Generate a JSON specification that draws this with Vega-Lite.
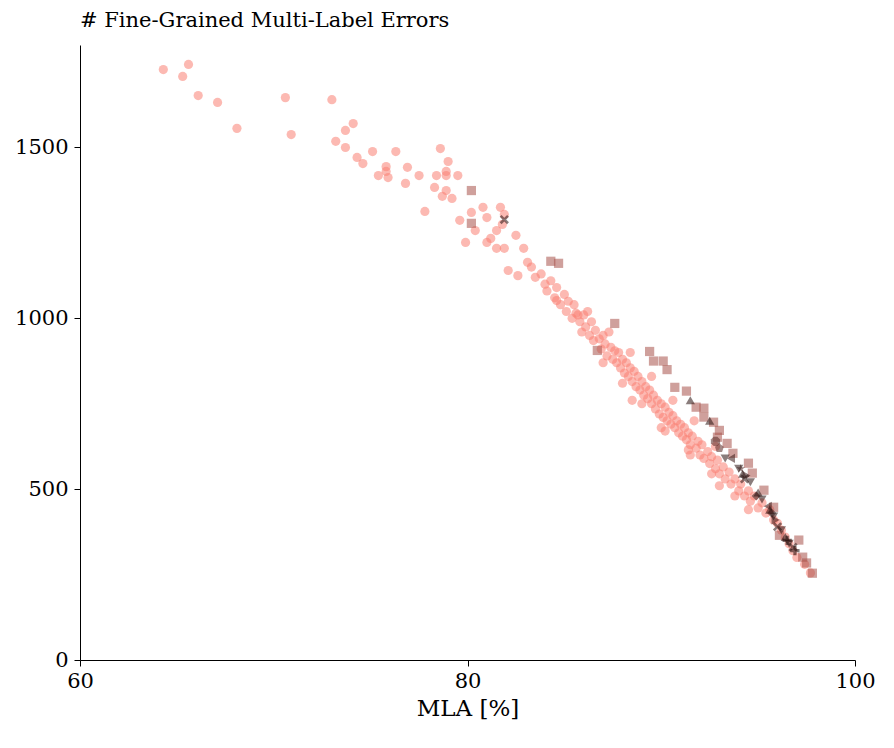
{
  "$schema": "https://vega.github.io/schema/vega-lite/v6.json",
  "autosize": "none",
  "padding": {"left": 80, "top": 45, "right": 39, "bottom": 88},
  "width": 775,
  "height": 615,
  "title": {"text": "# Fine-Grained Multi-Label Errors", "anchor": "start", "frame": "group", "font": "DejaVu Serif", "fontSize": 21, "fontWeight": "normal", "color": "black", "offset": 14},
  "data": {"values": [
    {"x":64.3,"y":1728,"d":"ImageNet-1k (1.2M)"},{"x":65.3,"y":1708,"d":"ImageNet-1k (1.2M)"},{"x":65.6,"y":1743,"d":"ImageNet-1k (1.2M)"},{"x":66.1,"y":1652,"d":"ImageNet-1k (1.2M)"},{"x":67.1,"y":1632,"d":"ImageNet-1k (1.2M)"},{"x":68.1,"y":1556,"d":"ImageNet-1k (1.2M)"},{"x":70.6,"y":1646,"d":"ImageNet-1k (1.2M)"},{"x":70.9,"y":1538,"d":"ImageNet-1k (1.2M)"},{"x":73.0,"y":1640,"d":"ImageNet-1k (1.2M)"},{"x":73.2,"y":1518,"d":"ImageNet-1k (1.2M)"},{"x":73.7,"y":1550,"d":"ImageNet-1k (1.2M)"},{"x":74.1,"y":1570,"d":"ImageNet-1k (1.2M)"},{"x":73.7,"y":1500,"d":"ImageNet-1k (1.2M)"},{"x":74.3,"y":1471,"d":"ImageNet-1k (1.2M)"},{"x":74.6,"y":1453,"d":"ImageNet-1k (1.2M)"},{"x":75.1,"y":1488,"d":"ImageNet-1k (1.2M)"},{"x":75.4,"y":1418,"d":"ImageNet-1k (1.2M)"},{"x":75.8,"y":1444,"d":"ImageNet-1k (1.2M)"},{"x":75.8,"y":1430,"d":"ImageNet-1k (1.2M)"},{"x":76.3,"y":1488,"d":"ImageNet-1k (1.2M)"},{"x":75.9,"y":1412,"d":"ImageNet-1k (1.2M)"},{"x":76.8,"y":1395,"d":"ImageNet-1k (1.2M)"},{"x":76.9,"y":1442,"d":"ImageNet-1k (1.2M)"},{"x":77.5,"y":1418,"d":"ImageNet-1k (1.2M)"},{"x":77.8,"y":1313,"d":"ImageNet-1k (1.2M)"},{"x":78.4,"y":1418,"d":"ImageNet-1k (1.2M)"},{"x":78.6,"y":1497,"d":"ImageNet-1k (1.2M)"},{"x":78.3,"y":1383,"d":"ImageNet-1k (1.2M)"},{"x":78.9,"y":1418,"d":"ImageNet-1k (1.2M)"},{"x":78.9,"y":1430,"d":"ImageNet-1k (1.2M)"},{"x":79.0,"y":1459,"d":"ImageNet-1k (1.2M)"},{"x":78.7,"y":1357,"d":"ImageNet-1k (1.2M)"},{"x":78.9,"y":1374,"d":"ImageNet-1k (1.2M)"},{"x":79.2,"y":1351,"d":"ImageNet-1k (1.2M)"},{"x":79.5,"y":1418,"d":"ImageNet-1k (1.2M)"},{"x":79.6,"y":1287,"d":"ImageNet-1k (1.2M)"},{"x":79.9,"y":1222,"d":"ImageNet-1k (1.2M)"},{"x":80.2,"y":1310,"d":"ImageNet-1k (1.2M)"},{"x":80.4,"y":1257,"d":"ImageNet-1k (1.2M)"},{"x":80.8,"y":1325,"d":"ImageNet-1k (1.2M)"},{"x":81.0,"y":1295,"d":"ImageNet-1k (1.2M)"},{"x":81.2,"y":1234,"d":"ImageNet-1k (1.2M)"},{"x":81.0,"y":1222,"d":"ImageNet-1k (1.2M)"},{"x":81.5,"y":1257,"d":"ImageNet-1k (1.2M)"},{"x":81.7,"y":1325,"d":"ImageNet-1k (1.2M)"},{"x":81.9,"y":1304,"d":"ImageNet-1k (1.2M)"},{"x":81.8,"y":1275,"d":"ImageNet-1k (1.2M)"},{"x":81.5,"y":1205,"d":"ImageNet-1k (1.2M)"},{"x":81.9,"y":1205,"d":"ImageNet-1k (1.2M)"},{"x":82.5,"y":1243,"d":"ImageNet-1k (1.2M)"},{"x":82.1,"y":1140,"d":"ImageNet-1k (1.2M)"},{"x":82.9,"y":1205,"d":"ImageNet-1k (1.2M)"},{"x":83.1,"y":1164,"d":"ImageNet-1k (1.2M)"},
    {"x":82.6,"y":1125,"d":"ImageNet-1k (1.2M)"},{"x":83.3,"y":1150,"d":"ImageNet-1k (1.2M)"},{"x":83.5,"y":1120,"d":"ImageNet-1k (1.2M)"},{"x":83.8,"y":1130,"d":"ImageNet-1k (1.2M)"},{"x":84.0,"y":1100,"d":"ImageNet-1k (1.2M)"},{"x":84.1,"y":1080,"d":"ImageNet-1k (1.2M)"},{"x":84.3,"y":1110,"d":"ImageNet-1k (1.2M)"},{"x":84.5,"y":1060,"d":"ImageNet-1k (1.2M)"},{"x":84.6,"y":1090,"d":"ImageNet-1k (1.2M)"},{"x":84.8,"y":1040,"d":"ImageNet-1k (1.2M)"},{"x":85.0,"y":1070,"d":"ImageNet-1k (1.2M)"},{"x":85.1,"y":1020,"d":"ImageNet-1k (1.2M)"},{"x":85.2,"y":1050,"d":"ImageNet-1k (1.2M)"},{"x":85.4,"y":1000,"d":"ImageNet-1k (1.2M)"},{"x":85.5,"y":1040,"d":"ImageNet-1k (1.2M)"},{"x":85.6,"y":1015,"d":"ImageNet-1k (1.2M)"},{"x":85.8,"y":990,"d":"ImageNet-1k (1.2M)"},{"x":85.9,"y":960,"d":"ImageNet-1k (1.2M)"},{"x":86.0,"y":1010,"d":"ImageNet-1k (1.2M)"},{"x":86.1,"y":975,"d":"ImageNet-1k (1.2M)"},{"x":86.3,"y":950,"d":"ImageNet-1k (1.2M)"},{"x":86.4,"y":990,"d":"ImageNet-1k (1.2M)"},{"x":86.5,"y":935,"d":"ImageNet-1k (1.2M)"},{"x":86.6,"y":965,"d":"ImageNet-1k (1.2M)"},{"x":86.8,"y":940,"d":"ImageNet-1k (1.2M)"},{"x":86.9,"y":910,"d":"ImageNet-1k (1.2M)"},{"x":87.0,"y":950,"d":"ImageNet-1k (1.2M)"},{"x":87.1,"y":925,"d":"ImageNet-1k (1.2M)"},{"x":87.2,"y":890,"d":"ImageNet-1k (1.2M)"},{"x":87.4,"y":915,"d":"ImageNet-1k (1.2M)"},{"x":87.5,"y":880,"d":"ImageNet-1k (1.2M)"},{"x":87.6,"y":905,"d":"ImageNet-1k (1.2M)"},{"x":87.7,"y":870,"d":"ImageNet-1k (1.2M)"},{"x":87.8,"y":900,"d":"ImageNet-1k (1.2M)"},{"x":87.9,"y":855,"d":"ImageNet-1k (1.2M)"},{"x":88.0,"y":880,"d":"ImageNet-1k (1.2M)"},{"x":88.1,"y":840,"d":"ImageNet-1k (1.2M)"},{"x":88.2,"y":870,"d":"ImageNet-1k (1.2M)"},{"x":88.3,"y":830,"d":"ImageNet-1k (1.2M)"},{"x":88.4,"y":855,"d":"ImageNet-1k (1.2M)"},{"x":88.5,"y":815,"d":"ImageNet-1k (1.2M)"},{"x":88.6,"y":845,"d":"ImageNet-1k (1.2M)"},{"x":88.7,"y":800,"d":"ImageNet-1k (1.2M)"},{"x":88.8,"y":830,"d":"ImageNet-1k (1.2M)"},{"x":88.9,"y":790,"d":"ImageNet-1k (1.2M)"},{"x":89.0,"y":815,"d":"ImageNet-1k (1.2M)"},{"x":89.1,"y":775,"d":"ImageNet-1k (1.2M)"},{"x":89.2,"y":800,"d":"ImageNet-1k (1.2M)"},{"x":89.3,"y":765,"d":"ImageNet-1k (1.2M)"},{"x":89.4,"y":790,"d":"ImageNet-1k (1.2M)"},{"x":89.5,"y":750,"d":"ImageNet-1k (1.2M)"},{"x":89.6,"y":775,"d":"ImageNet-1k (1.2M)"},{"x":89.7,"y":735,"d":"ImageNet-1k (1.2M)"},{"x":89.8,"y":760,"d":"ImageNet-1k (1.2M)"},{"x":89.9,"y":720,"d":"ImageNet-1k (1.2M)"},{"x":90.0,"y":750,"d":"ImageNet-1k (1.2M)"},{"x":90.1,"y":710,"d":"ImageNet-1k (1.2M)"},{"x":90.2,"y":740,"d":"ImageNet-1k (1.2M)"},{"x":90.3,"y":700,"d":"ImageNet-1k (1.2M)"},{"x":90.4,"y":725,"d":"ImageNet-1k (1.2M)"},{"x":90.5,"y":690,"d":"ImageNet-1k (1.2M)"},{"x":90.6,"y":715,"d":"ImageNet-1k (1.2M)"},{"x":90.7,"y":680,"d":"ImageNet-1k (1.2M)"},{"x":90.8,"y":700,"d":"ImageNet-1k (1.2M)"},{"x":90.9,"y":665,"d":"ImageNet-1k (1.2M)"},{"x":91.0,"y":690,"d":"ImageNet-1k (1.2M)"},{"x":91.1,"y":655,"d":"ImageNet-1k (1.2M)"},{"x":91.2,"y":680,"d":"ImageNet-1k (1.2M)"},{"x":91.3,"y":645,"d":"ImageNet-1k (1.2M)"},{"x":91.4,"y":665,"d":"ImageNet-1k (1.2M)"},{"x":91.5,"y":630,"d":"ImageNet-1k (1.2M)"},{"x":91.6,"y":655,"d":"ImageNet-1k (1.2M)"},{"x":91.8,"y":620,"d":"ImageNet-1k (1.2M)"},{"x":91.9,"y":640,"d":"ImageNet-1k (1.2M)"},{"x":92.0,"y":600,"d":"ImageNet-1k (1.2M)"},{"x":92.1,"y":630,"d":"ImageNet-1k (1.2M)"},{"x":92.2,"y":590,"d":"ImageNet-1k (1.2M)"},{"x":92.4,"y":610,"d":"ImageNet-1k (1.2M)"},{"x":92.5,"y":575,"d":"ImageNet-1k (1.2M)"},{"x":92.6,"y":595,"d":"ImageNet-1k (1.2M)"},{"x":92.8,"y":560,"d":"ImageNet-1k (1.2M)"},{"x":92.9,"y":585,"d":"ImageNet-1k (1.2M)"},{"x":93.0,"y":545,"d":"ImageNet-1k (1.2M)"},{"x":93.2,"y":565,"d":"ImageNet-1k (1.2M)"},{"x":93.3,"y":530,"d":"ImageNet-1k (1.2M)"},{"x":93.5,"y":550,"d":"ImageNet-1k (1.2M)"},{"x":93.6,"y":515,"d":"ImageNet-1k (1.2M)"},{"x":93.8,"y":530,"d":"ImageNet-1k (1.2M)"},{"x":94.0,"y":495,"d":"ImageNet-1k (1.2M)"},{"x":94.1,"y":515,"d":"ImageNet-1k (1.2M)"},{"x":94.3,"y":480,"d":"ImageNet-1k (1.2M)"},{"x":94.5,"y":495,"d":"ImageNet-1k (1.2M)"},{"x":94.6,"y":465,"d":"ImageNet-1k (1.2M)"},{"x":94.8,"y":480,"d":"ImageNet-1k (1.2M)"},{"x":95.0,"y":445,"d":"ImageNet-1k (1.2M)"},{"x":95.2,"y":460,"d":"ImageNet-1k (1.2M)"},{"x":95.4,"y":430,"d":"ImageNet-1k (1.2M)"},{"x":95.6,"y":440,"d":"ImageNet-1k (1.2M)"},{"x":95.8,"y":410,"d":"ImageNet-1k (1.2M)"},{"x":96.0,"y":400,"d":"ImageNet-1k (1.2M)"},{"x":96.2,"y":380,"d":"ImageNet-1k (1.2M)"},{"x":96.4,"y":360,"d":"ImageNet-1k (1.2M)"},{"x":96.6,"y":340,"d":"ImageNet-1k (1.2M)"},{"x":96.8,"y":320,"d":"ImageNet-1k (1.2M)"},{"x":97.0,"y":300,"d":"ImageNet-1k (1.2M)"},{"x":97.4,"y":280,"d":"ImageNet-1k (1.2M)"},{"x":97.7,"y":255,"d":"ImageNet-1k (1.2M)"},{"x":88.5,"y":760,"d":"ImageNet-1k (1.2M)"},{"x":90.0,"y":680,"d":"ImageNet-1k (1.2M)"},{"x":91.5,"y":600,"d":"ImageNet-1k (1.2M)"},{"x":93.0,"y":510,"d":"ImageNet-1k (1.2M)"},{"x":94.5,"y":440,"d":"ImageNet-1k (1.2M)"},{"x":85.7,"y":1010,"d":"ImageNet-1k (1.2M)"},{"x":84.6,"y":1052,"d":"ImageNet-1k (1.2M)"},
    {"x":86.2,"y":1020,"d":"ImageNet-1k (1.2M)"},{"x":87.3,"y":960,"d":"ImageNet-1k (1.2M)"},{"x":88.4,"y":900,"d":"ImageNet-1k (1.2M)"},{"x":89.5,"y":830,"d":"ImageNet-1k (1.2M)"},{"x":90.6,"y":760,"d":"ImageNet-1k (1.2M)"},{"x":91.7,"y":700,"d":"ImageNet-1k (1.2M)"},{"x":92.8,"y":625,"d":"ImageNet-1k (1.2M)"},{"x":87.0,"y":870,"d":"ImageNet-1k (1.2M)"},{"x":88.0,"y":810,"d":"ImageNet-1k (1.2M)"},{"x":89.0,"y":750,"d":"ImageNet-1k (1.2M)"},{"x":90.2,"y":670,"d":"ImageNet-1k (1.2M)"},{"x":91.4,"y":615,"d":"ImageNet-1k (1.2M)"},{"x":92.6,"y":545,"d":"ImageNet-1k (1.2M)"},{"x":93.8,"y":480,"d":"ImageNet-1k (1.2M)"},
    {"x":80.2,"y":1374,"d":"ImageNet-21k (14M)"},{"x":80.2,"y":1278,"d":"ImageNet-21k (14M)"},{"x":84.3,"y":1167,"d":"ImageNet-21k (14M)"},{"x":84.7,"y":1161,"d":"ImageNet-21k (14M)"},{"x":87.6,"y":985,"d":"ImageNet-21k (14M)"},{"x":86.7,"y":906,"d":"ImageNet-21k (14M)"},{"x":89.4,"y":903,"d":"ImageNet-21k (14M)"},{"x":89.6,"y":875,"d":"ImageNet-21k (14M)"},{"x":90.1,"y":875,"d":"ImageNet-21k (14M)"},{"x":90.3,"y":850,"d":"ImageNet-21k (14M)"},{"x":91.3,"y":787,"d":"ImageNet-21k (14M)"},{"x":90.7,"y":798,"d":"ImageNet-21k (14M)"},{"x":91.8,"y":740,"d":"ImageNet-21k (14M)"},{"x":92.2,"y":737,"d":"ImageNet-21k (14M)"},{"x":92.2,"y":711,"d":"ImageNet-21k (14M)"},{"x":92.7,"y":696,"d":"ImageNet-21k (14M)"},{"x":93.0,"y":672,"d":"ImageNet-21k (14M)"},{"x":92.9,"y":652,"d":"ImageNet-21k (14M)"},{"x":93.4,"y":634,"d":"ImageNet-21k (14M)"},{"x":93.7,"y":605,"d":"ImageNet-21k (14M)"},{"x":94.5,"y":576,"d":"ImageNet-21k (14M)"},{"x":94.7,"y":547,"d":"ImageNet-21k (14M)"},{"x":95.3,"y":497,"d":"ImageNet-21k (14M)"},{"x":95.8,"y":447,"d":"ImageNet-21k (14M)"},{"x":96.1,"y":365,"d":"ImageNet-21k (14M)"},{"x":97.1,"y":351,"d":"ImageNet-21k (14M)"},{"x":97.3,"y":301,"d":"ImageNet-21k (14M)"},{"x":97.5,"y":284,"d":"ImageNet-21k (14M)"},{"x":97.8,"y":254,"d":"ImageNet-21k (14M)"},
    {"x":93.0,"y":620,"d":"Merged (30M)"},
    {"x":92.8,"y":640,"d":"Merged (38M)"},
    {"x":94.1,"y":560,"d":"Flickr YFCC (90M)"},
    {"x":94.9,"y":480,"d":"JFT (300M)"},{"x":95.7,"y":430,"d":"JFT (300M)"},
    {"x":93.6,"y":590,"d":"WIT (400M)"},{"x":95.5,"y":450,"d":"WIT (400M)"},
    {"x":94.4,"y":540,"d":"LAION-400M (400M)"},{"x":95.9,"y":410,"d":"LAION-400M (400M)"},
    {"x":81.9,"y":1289,"d":"Instagram (940M)"},{"x":94.3,"y":530,"d":"Instagram (940M)"},{"x":96.8,"y":330,"d":"Instagram (940M)"},{"x":96.0,"y":390,"d":"Instagram (940M)"},
    {"x":93.3,"y":590,"d":"RandomInternetImages (2B)"},{"x":94.0,"y":560,"d":"RandomInternetImages (2B)"},{"x":94.6,"y":520,"d":"RandomInternetImages (2B)"},{"x":95.2,"y":470,"d":"RandomInternetImages (2B)"},{"x":95.8,"y":420,"d":"RandomInternetImages (2B)"},{"x":96.2,"y":380,"d":"RandomInternetImages (2B)"},{"x":96.6,"y":340,"d":"RandomInternetImages (2B)"},
    {"x":91.5,"y":760,"d":"LAION-2B (2.3B)"},{"x":92.5,"y":700,"d":"LAION-2B (2.3B)"},{"x":94.2,"y":545,"d":"LAION-2B (2.3B)"},{"x":95.0,"y":490,"d":"LAION-2B (2.3B)"},{"x":95.6,"y":440,"d":"LAION-2B (2.3B)"},{"x":96.4,"y":360,"d":"LAION-2B (2.3B)"},
    {"x":96.9,"y":320,"d":"Instagram (3.6B)"},{"x":96.5,"y":350,"d":"Instagram (3.6B)"}
  ]},
  "transform": [{"calculate": "datum.d", "as": "dataset"}],
  "mark": {"type": "point", "filled": true, "opacity": 0.55, "size": 85},
  "encoding": {
    "x": {"field": "x", "type": "quantitative", "title": "MLA [%]", "scale": {"domain": [60, 100]}, "axis": {"values": [60, 80, 100], "labelFlush": false}},
    "y": {"field": "y", "type": "quantitative", "title": null, "scale": {"domain": [0, 1800]}, "axis": {"values": [0, 500, 1000, 1500], "format": "d"}},
    "color": {"field": "d", "type": "nominal", "legend": null,
      "scale": {"domain": ["ImageNet-1k (1.2M)", "ImageNet-21k (14M)", "Merged (30M)", "Merged (38M)", "Flickr YFCC (90M)", "JFT (300M)", "WIT (400M)", "LAION-400M (400M)", "Instagram (940M)", "RandomInternetImages (2B)", "LAION-2B (2.3B)", "Instagram (3.6B)"],
        "range": ["#fa8072", "#a8524a", "#5a2a26", "#5a2a26", "#4a2220", "#3a1a18", "#3a1a18", "#3a1a18", "#2a1210", "#2a1210", "#2a1210", "#1a0a08"]}},
    "shape": {"field": "dataset", "type": "nominal", "title": null,
      "scale": {"domain": ["ImageNet-1k (1.2M)", "ImageNet-21k (14M)", "Merged (30M)", "Merged (38M)", "Flickr YFCC (90M)", "JFT (300M)", "WIT (400M)", "LAION-400M (400M)", "Instagram (940M)", "RandomInternetImages (2B)", "LAION-2B (2.3B)", "Instagram (3.6B)"],
        "range": ["circle", "square",
          "M0,-1L0.951,-0.309L0.588,0.809L-0.588,0.809L-0.951,-0.309Z",
          "M-0.41,-1L0.41,-1L1,-0.41L1,0.41L0.41,1L-0.41,1L-1,0.41L-1,-0.41Z",
          "M0,-1L0.235,-0.324L0.951,-0.309L0.38,0.124L0.588,0.809L0,0.4L-0.588,0.809L-0.38,0.124L-0.951,-0.309L-0.235,-0.324Z",
          "diamond", "triangle-left", "triangle-right",
          "M-1,-0.6L-0.6,-1L0,-0.4L0.6,-1L1,-0.6L0.4,0L1,0.6L0.6,1L0,0.4L-0.6,1L-1,0.6L-0.4,0Z",
          "triangle-down", "triangle-up",
          "M-0.35,-1L0.35,-1L0.35,-0.35L1,-0.35L1,0.35L0.35,0.35L0.35,1L-0.35,1L-0.35,0.35L-1,0.35L-1,-0.35L-0.35,-0.35Z"]},
      "legend": {"orient": "none", "legendX": 6, "legendY": 257, "symbolFillColor": "black", "symbolStrokeColor": "black", "symbolOpacity": 1, "symbolSize": 190, "labelFont": "DejaVu Serif", "labelFontSize": 15, "labelColor": "black", "rowPadding": 9, "labelOffset": 24, "labelLimit": 400}}
  },
  "config": {
    "view": {"stroke": null},
    "axis": {"grid": false, "domainColor": "black", "tickColor": "black", "labelColor": "black", "labelFont": "DejaVu Serif", "labelFontSize": 21, "titleFont": "DejaVu Serif", "titleFontSize": 23, "titleFontWeight": "normal", "titleColor": "black", "tickSize": 6, "labelPadding": 4},
    "axisX": {"titlePadding": 6},
    "axisY": {"labelPadding": 6}
  }
}
